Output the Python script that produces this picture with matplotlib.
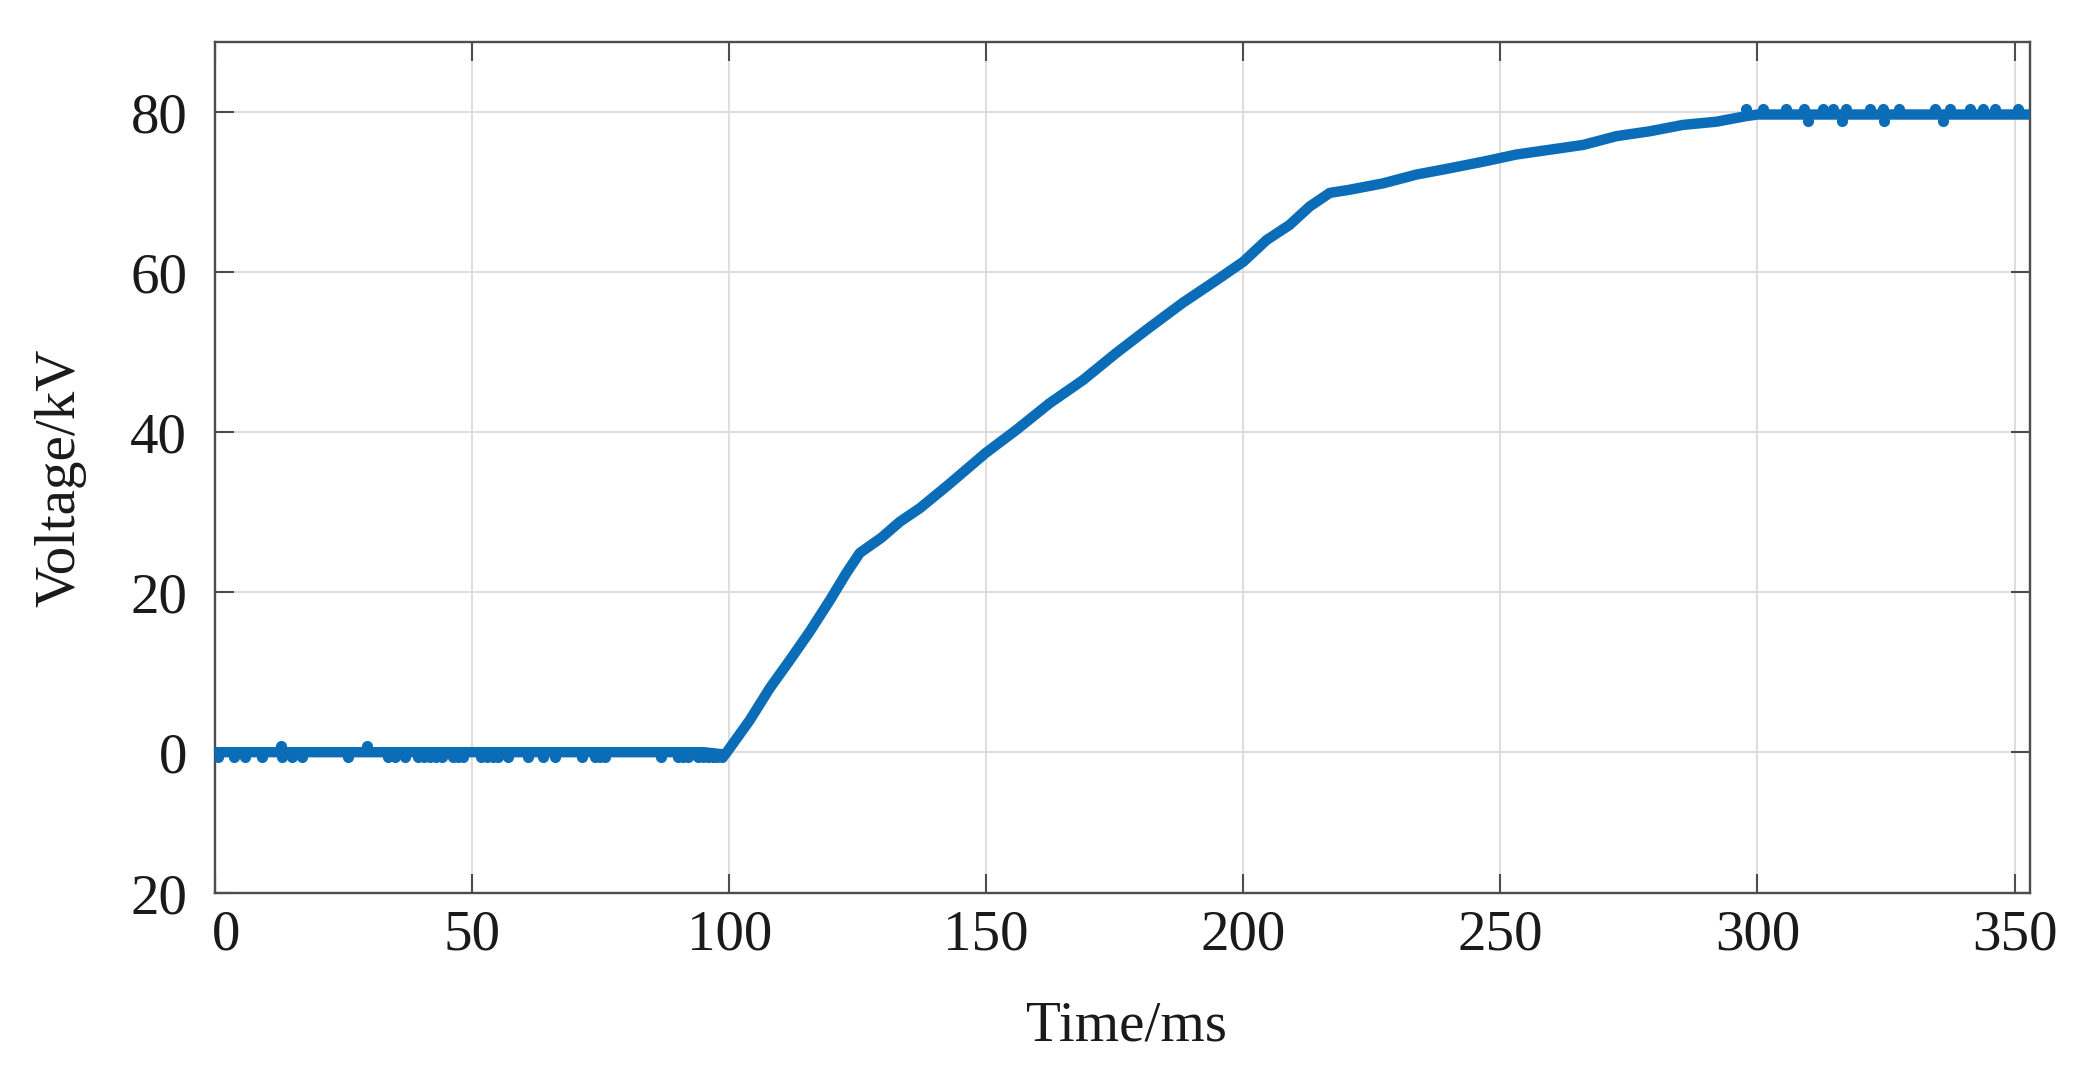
import numpy as np
import matplotlib
matplotlib.use("Agg")
import matplotlib.pyplot as plt
import matplotlib.transforms as mtransforms

# ---- data ----
time_ms = [0, 95.0, 99.2, 100.1, 104.0, 107.9, 111.8, 115.7, 119.6, 122.8, 125.4,
           129.6, 133.2, 137.1, 142.6, 149.9, 155.9, 162.3, 168.8, 175.3, 181.8,
           188.3, 194.8, 200.0, 204.5, 209.0, 212.9, 216.8, 220.7, 227.2, 233.7,
           239.5, 246.6, 253.1, 259.6, 266.1, 272.6, 279.0, 285.5, 292.0, 297.8,
           300.0, 353.0]
voltage_kv = [0.0, 0.0, -0.3, 0.5, 4.0, 8.0, 11.5, 15.1, 19.0, 22.4, 24.9,
              26.8, 28.8, 30.5, 33.4, 37.4, 40.3, 43.6, 46.5, 49.9, 53.1,
              56.2, 59.0, 61.3, 64.0, 65.9, 68.2, 69.9, 70.3, 71.1, 72.2,
              72.9, 73.8, 74.7, 75.3, 75.9, 77.0, 77.6, 78.4, 78.8, 79.5,
              79.7, 79.7]

# sampling glitches (one quantisation step off the flat levels)
glitch_t = [0.65, 3.6, 5.8, 9.1, 13.0, 14.9, 16.9, 25.9, 33.7, 35.0, 36.9,
            39.5, 40.7, 41.9, 43.0, 44.1, 46.3, 47.3, 48.3, 51.8, 52.9, 54.0, 55.1,
            57.0, 60.9, 63.8, 66.1, 71.3, 73.9, 74.9, 75.8, 86.8, 90.1, 91.0, 92.0,
            94.0, 95.0, 95.9, 96.8, 97.7, 98.6,
            12.8, 29.5,
            297.8, 301.1, 305.5, 309.0, 312.7, 314.7, 317.3, 321.8, 324.4, 327.6,
            334.5, 337.4, 341.3, 343.9, 346.1, 350.7,
            309.8, 316.5, 324.7, 336.1]
glitch_v = [-0.65] * 41 + [0.75, 0.75] + [80.4] * 16 + [78.95] * 4

xticks = [0, 50, 100, 150, 200, 250, 300, 350]
xtick_labels = ['0', '50', '100', '150', '200', '250', '300', '350']
yticks = [-17.6, 0, 20, 40, 60, 80]
ytick_labels = ['20', '0', '20', '40', '60', '80']

# ---- styling ----
plt.rcParams['font.family'] = ['Liberation Serif', 'DejaVu Serif']
line_color = '#0b6db7'
axis_color = '#4d4d4d'

fig = plt.figure(figsize=(20.92, 10.73), dpi=100)
ax = fig.add_axes([215 / 2092, 1 - 893 / 1073, 1815 / 2092, 851.3 / 1073])

ax.plot(time_ms, voltage_kv, color=line_color, lw=7.5,
        solid_joinstyle='round', solid_capstyle='butt', zorder=3)
ax.plot(glitch_t, glitch_v, 'o', color=line_color, ms=8, mew=0, zorder=3)

ax.set_xlim(0, 353)
ax.set_ylim(-17.6, 88.8)
ax.set_xticks(xticks)
ax.set_xticklabels(xtick_labels)
ax.set_yticks(yticks)
ax.set_yticklabels(ytick_labels)

ax.grid(True, color='#dedede', lw=1.5, zorder=0)
ax.set_axisbelow(True)
for s in ax.spines.values():
    s.set_color(axis_color)
    s.set_linewidth(1.7)

ax.tick_params(axis='both', direction='in', length=13.7, width=1.5,
               color=axis_color, labelsize=41, labelcolor='#1a1a1a',
               top=True, right=True)
ax.tick_params(axis='x', pad=12)
ax.tick_params(axis='y', pad=20)

# first x label sits a little right of its tick in the reference
first = ax.get_xticklabels()[0]
first.set_transform(first.get_transform() +
                    mtransforms.ScaledTranslation(8 / 72, 0, fig.dpi_scale_trans))

ax.set_xlabel('Time/ms', fontsize=41, color='#1a1a1a')
ax.set_ylabel('Voltage/kV', fontsize=41, color='#1a1a1a')
ax.xaxis.set_label_coords(0.502, -0.157)
ax.xaxis.label.set_va('center')
ax.yaxis.set_label_coords(-0.0854, 0.4875)
ax.yaxis.label.set_va('center')
ax.yaxis.label.set_ha('center')

fig.savefig('out.png', dpi=100)
